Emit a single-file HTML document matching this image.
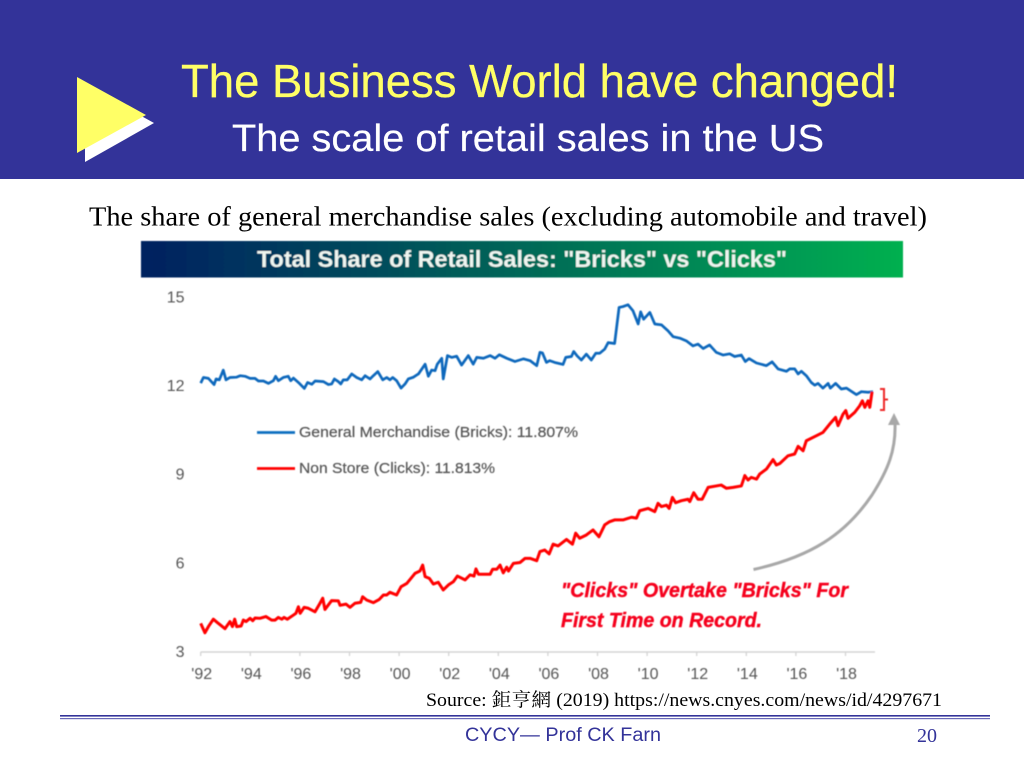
<!DOCTYPE html>
<html lang="en">
<head>
<meta charset="utf-8">
<title>The Business World have changed!</title>
<style>
html,body{margin:0;padding:0;background:#fff;width:1024px;height:768px;overflow:hidden}
svg{display:block}
.sans{font-family:"Liberation Sans",sans-serif}
.serif{font-family:"Liberation Serif","Noto Serif CJK SC",serif}
.tick{font-family:"Liberation Sans",sans-serif;font-size:16px;fill:#555555}
</style>
</head>
<body>
<svg id="slide" xmlns="http://www.w3.org/2000/svg" width="1024" height="768" viewBox="0 0 1024 768">
  <defs>
    <linearGradient id="bannerGrad" x1="0" y1="0" x2="1" y2="0">
      <stop offset="0" stop-color="#002060"/>
      <stop offset="1" stop-color="#00B050"/>
    </linearGradient>
    <filter id="soft" x="-5%" y="-5%" width="110%" height="110%"><feGaussianBlur stdDeviation="0.5"/></filter>
    <filter id="softText" x="-5%" y="-20%" width="110%" height="140%"><feGaussianBlur stdDeviation="0.3"/></filter>
  </defs>

  <rect x="0" y="0" width="1024" height="179" fill="#333399"/>
  <polygon points="85,85 85,162 154,123" fill="#ffffff"/>
  <polygon points="77,77 77,153 146,115" fill="#ffff66"/>
  <text class="sans" x="181" y="97" font-size="46" fill="#ffff66" stroke="#ffff66" stroke-width="0.3" filter="url(#softText)" textLength="717" lengthAdjust="spacingAndGlyphs">The Business World have changed!</text>
  <text class="sans" x="232" y="151" font-size="38" fill="#ffffff" stroke="#ffffff" stroke-width="0.2" filter="url(#softText)" textLength="592" lengthAdjust="spacingAndGlyphs">The scale of retail sales in the US</text>
  <text class="serif" x="89" y="225.5" font-size="27" fill="#000000" textLength="838" lengthAdjust="spacingAndGlyphs">The share of general merchandise sales (excluding automobile and travel)</text>

  <g id="chart" filter="url(#soft)">
    <rect x="141" y="241" width="762" height="36.5" fill="url(#bannerGrad)"/>
    <text class="sans" x="257" y="267" font-size="23" font-weight="bold" fill="#eef5f0" textLength="530" lengthAdjust="spacingAndGlyphs">Total Share of Retail Sales: "Bricks" vs "Clicks"</text>

    <g id="axes"></g>
    <g id="series"></g>

    <line x1="257" y1="432.5" x2="295" y2="432.5" stroke="#0f6fc0" stroke-width="2.8"/>
    <text class="sans" x="299" y="437" font-size="15" fill="#555555" stroke="#555555" stroke-width="0.2" textLength="279" lengthAdjust="spacingAndGlyphs">General Merchandise (Bricks): 11.807%</text>
    <line x1="257" y1="468.5" x2="295" y2="468.5" stroke="#ff0000" stroke-width="2.8"/>
    <text class="sans" x="299" y="473" font-size="15" fill="#555555" stroke="#555555" stroke-width="0.2" textLength="196" lengthAdjust="spacingAndGlyphs">Non Store (Clicks): 11.813%</text>

    <path d="M880,389 H884 V410 H880 M884,399.5 H888" fill="none" stroke="#ee2b2b" stroke-width="2"/>
    <path d="M753.5,569.5 C810,557 845,535 872,495 C888,470 896,450 895,423" fill="none" stroke="#a8a8a8" stroke-width="3"/>
    <polygon points="894,413 888,425 900,425" fill="#a8a8a8"/>

    <text class="sans" x="561" y="597" font-size="20" font-weight="bold" font-style="italic" fill="#f5001e" stroke="#f5001e" stroke-width="0.4" textLength="287" lengthAdjust="spacingAndGlyphs">"Clicks" Overtake "Bricks" For</text>
    <text class="sans" x="561" y="627" font-size="20" font-weight="bold" font-style="italic" fill="#f5001e" stroke="#f5001e" stroke-width="0.4" textLength="201" lengthAdjust="spacingAndGlyphs">First Time on Record.</text>
  </g>

  <text class="serif" x="426" y="706" font-size="19" fill="#000000" textLength="516" lengthAdjust="spacingAndGlyphs">Source: 鉅亨網 (2019) https://news.cnyes.com/news/id/4297671</text>
  <rect x="60" y="715" width="930" height="1.6" fill="#333399"/>
  <rect x="60" y="718" width="930" height="1.2" fill="#6a6ab8"/>
  <text class="sans" x="465" y="741" font-size="19" fill="#333399" textLength="196" lengthAdjust="spacingAndGlyphs">CYCY— Prof CK Farn</text>
  <text class="serif" x="917" y="742" font-size="20" fill="#333399" textLength="20" lengthAdjust="spacingAndGlyphs">20</text>
</svg>

<script>
var yTickValues = [3, 6, 9, 12, 15];
var xTickYears = [1992, 1994, 1996, 1998, 2000, 2002, 2004, 2006, 2008, 2010, 2012, 2014, 2016, 2018];
var xTickLabels = ["'92", "'94", "'96", "'98", "'00", "'02", "'04", "'06", "'08", "'10", "'12", "'14", "'16", "'18"];

var bricksDates = [1992.00,1992.11,1992.31,1992.54,1992.62,1992.75,1992.91,1993.02,1993.18,1993.45,1993.59,1993.79,1993.99,1994.19,1994.33,1994.53,1994.73,1994.93,1995.02,1995.13,1995.33,1995.53,1995.63,1995.74,1995.98,1996.18,1996.31,1996.48,1996.61,1996.95,1997.15,1997.28,1997.39,1997.55,1997.65,1997.75,1997.91,1998.09,1998.29,1998.49,1998.63,1998.83,1998.96,1999.14,1999.34,1999.50,1999.63,1999.74,1999.90,2000.08,2000.24,2000.37,2000.58,2000.78,2001.05,2001.18,2001.31,2001.45,2001.54,2001.72,2001.78,2001.95,2002.12,2002.32,2002.52,2002.79,2002.99,2003.13,2003.40,2003.67,2003.87,2004.04,2004.34,2004.67,2005.01,2005.28,2005.55,2005.68,2005.78,2005.94,2006.07,2006.27,2006.61,2006.72,2006.95,2007.04,2007.18,2007.35,2007.55,2007.75,2007.93,2008.09,2008.29,2008.43,2008.69,2008.87,2009.03,2009.23,2009.43,2009.64,2009.74,2009.86,2010.11,2010.31,2010.58,2010.84,2011.05,2011.32,2011.58,2011.85,2012.05,2012.26,2012.52,2012.79,2013.06,2013.33,2013.53,2013.80,2013.96,2014.11,2014.41,2014.81,2015.04,2015.28,2015.62,2015.75,2015.95,2016.09,2016.22,2016.42,2016.62,2016.76,2016.89,2017.09,2017.30,2017.39,2017.60,2017.83,2018.04,2018.44,2018.64,2018.91,2019.11];
var bricksValues = [12.10,12.29,12.26,12.05,12.24,12.21,12.54,12.21,12.29,12.30,12.35,12.33,12.26,12.26,12.17,12.17,12.09,12.18,12.33,12.18,12.29,12.33,12.18,12.27,12.09,11.92,12.12,12.06,12.17,12.15,12.05,12.07,12.24,12.15,12.07,12.21,12.21,12.41,12.29,12.21,12.35,12.24,12.35,12.49,12.21,12.29,12.21,12.29,12.18,11.93,12.07,12.24,12.30,12.41,12.74,12.33,12.54,12.52,12.74,12.94,12.24,13.03,12.97,13.01,12.71,13.03,12.74,12.97,12.94,13.03,12.94,13.06,12.94,12.83,12.92,12.86,12.69,13.14,13.12,12.80,12.86,12.80,12.73,12.97,13.00,13.17,13.02,12.88,13.08,12.88,13.11,13.11,13.25,13.47,13.44,14.66,14.69,14.75,14.55,14.10,14.51,14.26,14.49,14.10,14.07,13.87,13.67,13.62,13.53,13.36,13.42,13.27,13.39,13.14,13.05,13.09,13.00,13.05,12.83,12.93,12.78,12.69,12.82,12.58,12.50,12.58,12.58,12.41,12.50,12.35,12.12,12.03,12.09,11.93,12.09,11.93,12.09,11.90,11.93,11.71,11.81,11.79,11.81];

var clicksDates = [1992.00,1992.17,1992.31,1992.51,1992.71,1992.98,1993.18,1993.28,1993.37,1993.45,1993.63,1993.72,1993.83,1993.99,1994.10,1994.19,1994.39,1994.63,1994.86,1995.00,1995.13,1995.27,1995.36,1995.49,1995.74,1995.84,1995.94,1996.01,1996.17,1996.34,1996.61,1996.81,1996.92,1997.01,1997.28,1997.55,1997.62,1997.86,1998.02,1998.22,1998.45,1998.53,1998.69,1998.96,1999.20,1999.37,1999.50,1999.63,1999.90,2000.08,2000.31,2000.64,2000.84,2000.95,2001.05,2001.22,2001.38,2001.58,2001.78,2001.99,2002.19,2002.35,2002.66,2002.86,2003.02,2003.10,2003.20,2003.67,2003.77,2003.94,2004.07,2004.20,2004.34,2004.41,2004.61,2004.88,2005.08,2005.28,2005.55,2005.68,2005.87,2006.05,2006.21,2006.41,2006.75,2006.99,2007.12,2007.28,2007.55,2007.82,2008.06,2008.29,2008.49,2008.69,2009.03,2009.37,2009.57,2009.70,2010.04,2010.31,2010.44,2010.58,2010.78,2010.89,2011.02,2011.15,2011.38,2011.65,2011.72,2011.88,2012.05,2012.22,2012.46,2012.79,2012.99,2013.20,2013.47,2013.80,2013.94,2014.07,2014.20,2014.41,2014.54,2014.81,2015.08,2015.21,2015.35,2015.68,2015.95,2016.09,2016.29,2016.42,2016.83,2017.09,2017.36,2017.60,2017.70,2017.90,2018.01,2018.10,2018.37,2018.57,2018.68,2018.78,2018.91,2018.98,2019.07];
var clicksValues = [3.97,3.65,3.86,4.11,3.97,3.79,4.03,3.86,4.11,3.86,3.88,4.08,4.03,4.14,4.06,4.15,4.14,4.20,4.08,4.08,4.17,4.11,4.17,4.11,4.25,4.31,4.53,4.31,4.51,4.48,4.36,4.65,4.82,4.44,4.74,4.73,4.58,4.62,4.51,4.65,4.68,4.87,4.76,4.67,4.78,4.93,4.93,5.02,4.93,5.21,5.32,5.66,5.74,5.94,5.55,5.49,5.30,5.36,5.10,5.27,5.38,5.57,5.44,5.61,5.57,5.81,5.63,5.63,5.80,5.80,5.94,5.68,5.87,5.74,6.00,6.03,6.17,6.17,6.09,6.40,6.45,6.32,6.65,6.59,6.81,6.65,7.02,6.85,6.96,7.13,6.90,7.30,7.41,7.47,7.47,7.56,7.53,7.78,7.86,7.75,8.03,7.92,7.97,7.86,8.23,8.05,8.12,8.17,8.09,8.39,8.17,8.17,8.57,8.62,8.65,8.54,8.57,8.62,8.97,8.82,8.91,8.85,9.02,9.19,9.51,9.33,9.38,9.64,9.70,9.96,9.81,10.15,10.32,10.43,10.71,10.94,10.66,11.05,11.17,10.91,11.11,11.33,11.50,11.28,11.50,11.28,11.81];

var SVGNS = 'http://www.w3.org/2000/svg';
var plotLeft = 200.7, pxPerYear = 24.8, yAt3 = 652, pxPerUnit = 29.55, axisEnd = 875;

function xScale(year) { return plotLeft + (year - 1992) * pxPerYear; }
function yScale(v) { return yAt3 - (v - 3) * pxPerUnit; }

function make(tag, attrs) {
  var el = document.createElementNS(SVGNS, tag);
  for (var k in attrs) { el.setAttribute(k, attrs[k]); }
  return el;
}

function seriesPath(dates, values) {
  var d = '';
  for (var i = 0; i < dates.length; i++) {
    d += (i ? 'L' : 'M') + xScale(dates[i]).toFixed(2) + ',' + yScale(values[i]).toFixed(2);
  }
  return d;
}

var axes = document.getElementById('axes');
var series = document.getElementById('series');

var axisLine = make('line', {x1: plotLeft, y1: yAt3, x2: axisEnd, y2: yAt3, stroke: '#d4d4d4', 'stroke-width': 1.6});


axes.appendChild(axisLine);

yTickValues.forEach(function (v) {
  var t = make('text', {x: 184.5, y: yScale(v) + 5, 'text-anchor': 'end', 'class': 'tick'});
  
  
  t.textContent = String(v);
  axes.appendChild(t);
});

xTickYears.forEach(function (year, i) {
  var x = xScale(year);
  var tick = make('line', {x1: x, y1: yAt3, x2: x, y2: yAt3 + 4, stroke: '#d4d4d4', 'stroke-width': 1.3});
  
  
  axes.appendChild(tick);
  var t = make('text', {x: x + 1, y: 679, 'text-anchor': 'middle', 'class': 'tick'});
  
  
  t.textContent = xTickLabels[i];
  axes.appendChild(t);
});

var bricksLine = make('path', {d: seriesPath(bricksDates, bricksValues), fill: 'none', stroke: '#0a68bc', 'stroke-width': 2.7, 'stroke-linejoin': 'round'});


series.appendChild(bricksLine);

var clicksLine = make('path', {d: seriesPath(clicksDates, clicksValues), fill: 'none', stroke: '#ff0000', 'stroke-width': 3, 'stroke-linejoin': 'round'});


series.appendChild(clicksLine);
</script>
</body>
</html>
